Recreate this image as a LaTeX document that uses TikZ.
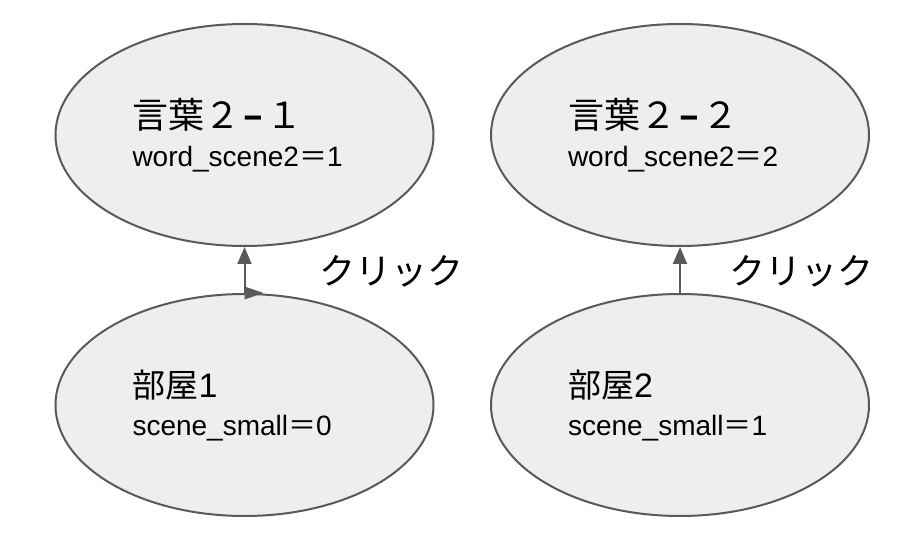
\documentclass[tikz,border=0pt]{standalone}
\usepackage{fontspec}
\setmainfont{Liberation Sans}
\newfontfamily\cjk{Noto Sans CJK JP}
\usetikzlibrary{shapes.geometric, arrows.meta}
\definecolor{linegray}{HTML}{595959}
\definecolor{cellfill}{HTML}{EEEEEE}
\newcommand{\dashmark}{\makebox[26pt]{\fontsize{36}{39}\selectfont\bfseries –}}
\begin{document}
\begin{tikzpicture}[
        x=1pt, y=-1pt, % координаты в пикселях
        scene/.style={ellipse, draw=linegray, line width=2pt, fill=cellfill,
            minimum width=378pt, minimum height=222pt, inner sep=0pt,
            text width=224pt, align=left, font=\fontsize{28}{38}\selectfont}, % Стиль узлов
        jump/.style={draw=linegray, line width=2pt, -{Triangle[length=17pt, width=14pt]}},
        kant/.style={anchor=west, font=\cjk\fontsize{36}{40}\selectfont},
    ]
    \useasboundingbox (0,0) rectangle (900,540);

    % верхний ряд
    \node[scene] (w1) at (244.5,135) {{\cjk\fontsize{36}{38}\selectfont 言葉２\dashmark １}\\word\_scene2{\cjk ＝}1};
    \node[scene] (w2) at (680,135) {{\cjk\fontsize{36}{38}\selectfont 言葉２\dashmark ２}\\word\_scene2{\cjk ＝}2};

    % нижний ряд
    \node[scene] (r1) at (244.5,405) {{\cjk\fontsize{33}{38}\selectfont 部屋}{\fontsize{34}{38}\selectfont 1}\\scene\_small{\cjk ＝}0};
    \node[scene] (r2) at (680,405) {{\cjk\fontsize{33}{38}\selectfont 部屋}{\fontsize{34}{38}\selectfont 2}\\scene\_small{\cjk ＝}1};

    \draw[jump] (r1.north) -- (w1.south);
    \fill[linegray] (r1.north) ++(0,-6.5) -- ++(19,6.5) -- ++(-19,6.5) -- cycle;
    \draw[jump] (r2.north) -- (w2.south);

    \node[kant] (c1) at (316,271) {クリック};
    \node[kant] (c2) at (726,271) {クリック};
\end{tikzpicture}
\end{document}
